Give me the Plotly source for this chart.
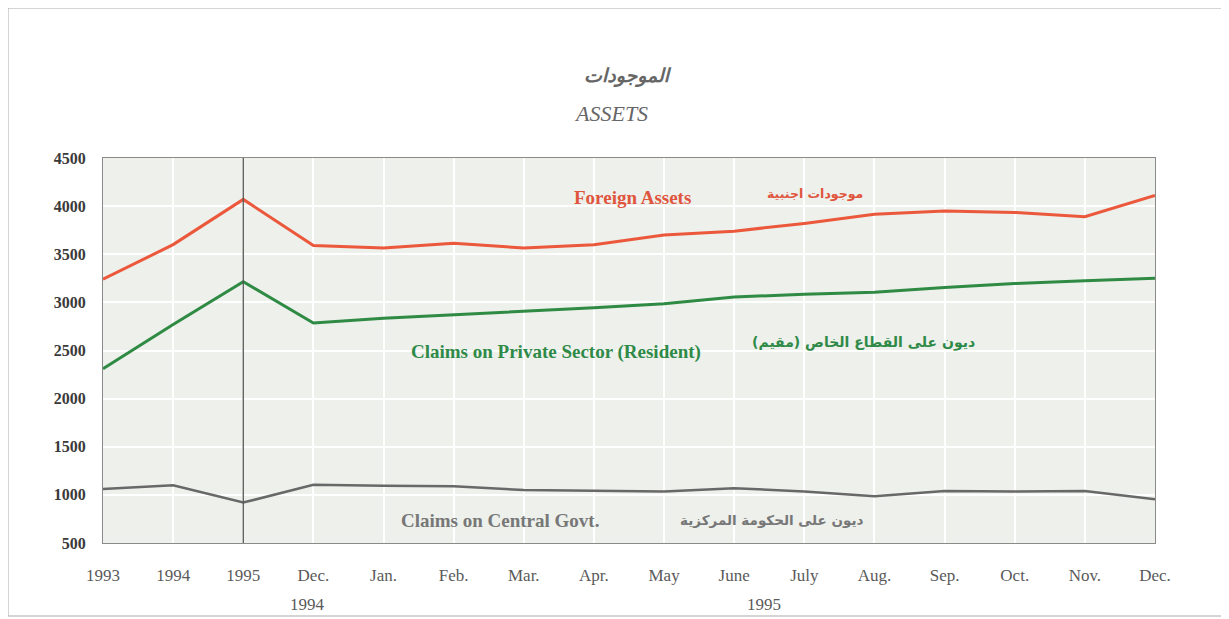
import plotly.graph_objects as go

# ---- data ----
tick_labels = ["1993", "1994", "1995", "Dec.", "Jan.", "Feb.", "Mar.", "Apr.",
               "May", "June", "July", "Aug.", "Sep.", "Oct.", "Nov.", "Dec."]
year_labels = ["1994", "1995"]
foreign_assets = [3240, 3600, 4070, 3590, 3565, 3615, 3565, 3600,
                  3700, 3740, 3820, 3915, 3950, 3935, 3890, 4110]
private_sector = [2310, 2770, 3215, 2785, 2835, 2870, 2905, 2945,
                  2985, 3055, 3085, 3105, 3155, 3195, 3225, 3250]
central_govt = [1060, 1100, 920, 1105, 1095, 1090, 1050, 1040,
                1035, 1070, 1035, 985, 1040, 1035, 1040, 955]
y_ticks = [500, 1000, 1500, 2000, 2500, 3000, 3500, 4000, 4500]

x = list(range(len(tick_labels)))
SERIF = "Liberation Serif, Times New Roman, serif"
ARABIC = "DejaVu Sans, Noto Sans, sans-serif"

# page has an 8px body margin; screen plot area: x 103..1155, y 158..543
OFF = 8
PL, PR, PT, PB = 103, 1155, 158, 543
PW, PH = PR - PL, PB - PT


def px(sx):
    return (sx - PL) / PW


def py(sy):
    return (PB - sy) / PH


fig = go.Figure()
fig.add_trace(go.Scatter(x=x, y=foreign_assets, mode="lines",
                         line=dict(color="#ec583b", width=3), name="Foreign Assets"))
fig.add_trace(go.Scatter(x=x, y=private_sector, mode="lines",
                         line=dict(color="#2f8a44", width=3), name="Claims on Private Sector"))
fig.add_trace(go.Scatter(x=x, y=central_govt, mode="lines",
                         line=dict(color="#686868", width=2.5), name="Claims on Central Govt."))

W, H = 1229 - OFF, 619 - OFF
fig.update_layout(
    width=W, height=H,
    margin=dict(l=PL - OFF, r=W - (PR - OFF), t=PT - OFF, b=H - (PB - OFF)),
    paper_bgcolor="white", plot_bgcolor="#edf0eb",
    showlegend=False,
    font=dict(family=SERIF, color="#555"),
)
fig.update_xaxes(range=[0, 15], tickvals=x, ticktext=tick_labels,
                 showgrid=True, gridcolor="white", gridwidth=2,
                 showline=True, linecolor="#8a8a8a", linewidth=1, mirror=True,
                 ticks="", tickfont=dict(family=SERIF, size=17, color="#5a5a5a"),
                 ticklabelstandoff=17, zeroline=False)
fig.update_yaxes(range=[500, 4500], tickvals=y_ticks,
                 showgrid=True, gridcolor="white", gridwidth=2,
                 showline=True, linecolor="#8a8a8a", linewidth=1, mirror=True,
                 ticks="", tickfont=dict(family=SERIF, size=16, color="#3a3a3a", weight="bold"),
                 ticklabelstandoff=13, zeroline=False)

# separator line at 1995
fig.add_shape(type="line", xref="x", yref="paper", x0=2, x1=2, y0=0, y1=1,
              line=dict(color="#555", width=1.3))

# outer frame
fig.add_shape(type="rect", xref="paper", yref="paper",
              x0=px(8), x1=px(1222), y0=py(616), y1=py(8),
              line=dict(color="#aaa", width=1))


def ann(sx, sy, text, color, fam, size, bold=False, italic=False):
    if italic:
        text = "<i>" + text + "</i>"
    f = dict(family=fam, size=size, color=color)
    if bold:
        f["weight"] = "bold"
    fig.add_annotation(x=px(sx), y=py(sy), xref="paper", yref="paper",
                       xanchor="center", yanchor="middle",
                       text=text, showarrow=False, font=f)


# second line of x labels
ann(307, 604, year_labels[0], "#5a5a5a", SERIF, 17)
ann(764, 604, year_labels[1], "#5a5a5a", SERIF, 17)

# titles
ann(628, 75, "الموجودات", "#666", ARABIC, 19, bold=True, italic=True)
ann(611, 113, "ASSETS", "#666", SERIF, 22, italic=True)

# series labels
ann(632, 197, "Foreign Assets", "#e0553e", SERIF, 19, bold=True)
ann(815, 193, "موجودات اجنبية", "#e0553e", ARABIC, 12.5, bold=True)
ann(556, 352, "Claims on Private Sector (Resident)", "#2f8a48", SERIF, 19, bold=True)
ann(863, 342, "ديون على القطاع الخاص (مقيم)", "#2f8a48", ARABIC, 14, bold=True)
ann(500, 520, "Claims on Central Govt.", "#777", SERIF, 19, bold=True)
ann(771, 520, "ديون على الحكومة المركزية", "#777", ARABIC, 13.5, bold=True)

fig.write_html("out.html")
